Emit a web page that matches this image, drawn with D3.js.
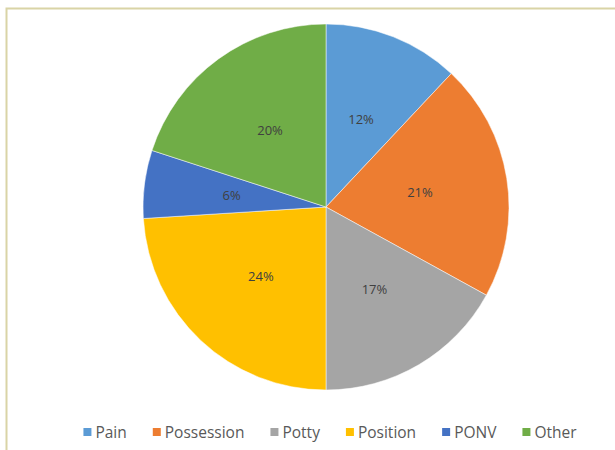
<!DOCTYPE html>
<html><head><meta charset="utf-8">
<script src="https://cdn.jsdelivr.net/npm/d3@7"></script>
<style>body{margin:0;background:#fff;}svg{display:block;}</style>
</head><body>
<script>
const categories = ["Pain","Possession","Potty","Position","PONV","Other"];
const values = [12,21,17,24,6,20];
const colors = ["#5B9BD5","#ED7D31","#A5A5A5","#FFC000","#4472C4","#70AD47"];

const W=615,H=450;
const svg=d3.select("body").append("svg").attr("width",W).attr("height",H);
svg.append("rect").attr("width",W).attr("height",H).attr("fill","#fff");
svg.append("rect").attr("x",6.5).attr("y",8.5).attr("width",W+20).attr("height",H+20)
  .attr("fill","none").attr("stroke","#d9d4a6").attr("stroke-width",2);

const cx=326,cy=207,R=183;
const data=categories.map((c,i)=>({c,v:values[i],col:colors[i]}));
const pie=d3.pie().value(d=>d.v).sort(null);
const arc=d3.arc().innerRadius(0).outerRadius(R);
const labelArc=d3.arc().innerRadius(R*0.52).outerRadius(R*0.52);
const g=svg.append("g").attr("transform",`translate(${cx},${cy})`);
const arcs=pie(data);
g.selectAll("path").data(arcs).join("path").attr("d",arc).attr("fill",d=>d.data.col)
  .attr("stroke","#fff").attr("stroke-width",0.5);
const total=d3.sum(values);
g.selectAll("text").data(arcs).join("text")
  .attr("transform",d=>`translate(${labelArc.centroid(d)})`)
  .attr("text-anchor","middle").attr("dominant-baseline","central")
  .attr("font-family","Open Sans, sans-serif").attr("font-size",13).attr("fill","#404040")
  .text(d=>Math.round(d.data.v/total*100)+"%");

// legend
const lg=svg.append("g");
const fs=15.5, sq=8, pad=4, gap=26;
const items=[];
data.forEach(d=>{
  const t=lg.append("text").attr("font-family","Open Sans, sans-serif").attr("font-size",fs)
    .attr("fill","#595959").attr("dominant-baseline","central").text(d.c);
  items.push({d,t,w:t.node().getComputedTextLength()});
});
const totalW=d3.sum(items,it=>sq+pad+it.w)+gap*(items.length-1);
let x=330-totalW/2; const ly=432;
items.forEach(it=>{
  lg.append("rect").attr("x",x).attr("y",ly-sq/2).attr("width",sq).attr("height",sq).attr("fill",it.d.col);
  it.t.attr("x",x+sq+pad).attr("y",ly);
  x+=sq+pad+it.w+gap;
});
</script>
</body></html>
